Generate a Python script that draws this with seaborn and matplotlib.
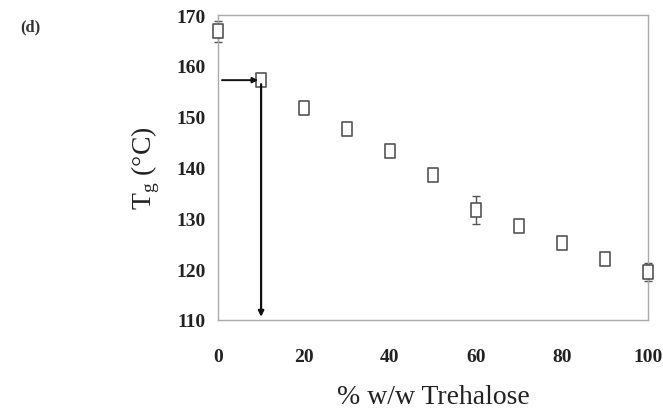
import matplotlib
matplotlib.use("Agg")
import matplotlib.pyplot as plt
from matplotlib.path import Path
import seaborn as sns
import pandas as pd

# Glass transition temperature vs trehalose content
trehalose_pct = [0, 10, 20, 30, 40, 50, 60, 70, 80, 90, 100]
tg_celsius = [166.8, 157.2, 151.8, 147.6, 143.2, 138.6, 131.6, 128.5, 125.1, 122.0, 119.4]
tg_error = [2.0, 0.6, 0.6, 0.5, 0.6, 0.6, 2.7, 0.6, 0.5, 0.5, 1.8]

x_ticks = [0, 20, 40, 60, 80, 100]
y_ticks = [110, 120, 130, 140, 150, 160, 170]

df = pd.DataFrame({"pct": trehalose_pct, "tg": tg_celsius, "err": tg_error})

sns.set_theme(style="white")
plt.rcParams["font.family"] = ["Liberation Serif", "DejaVu Serif"]

fig = plt.figure(figsize=(6.63, 4.14), dpi=100)
ax = fig.add_axes([0.329, 0.225, 0.648, 0.736])

# Tall open rectangle marker
rect_marker = Path([(-0.36, -0.5), (0.36, -0.5), (0.36, 0.5), (-0.36, 0.5), (-0.36, -0.5)],
                   [Path.MOVETO, Path.LINETO, Path.LINETO, Path.LINETO, Path.CLOSEPOLY])

eb = ax.errorbar(df["pct"], df["tg"], yerr=df["err"], fmt="none",
                 ecolor="#555555", elinewidth=1.0, capsize=3, capthick=1.0, zorder=2)
for art in eb.lines[1] + eb.lines[2]:
    art.set_clip_on(False)
sns.scatterplot(data=df, x="pct", y="tg", marker=rect_marker, s=110,
                facecolor="white", edgecolor="#555555", linewidth=1.2,
                ax=ax, zorder=3, legend=False, clip_on=False)

# Arrow guides reading off the 10 % composition
sel_x, sel_y = trehalose_pct[1], tg_celsius[1]
ax.annotate("", xy=(sel_x - 0.7, sel_y), xytext=(0.9, sel_y),
            arrowprops=dict(arrowstyle="-|>", color="#111111", lw=1.4,
                            mutation_scale=8, shrinkA=0, shrinkB=0), zorder=4)
ax.annotate("", xy=(sel_x, 110.6), xytext=(sel_x, sel_y - 0.8),
            arrowprops=dict(arrowstyle="-|>", color="#111111", lw=1.6,
                            mutation_scale=8, shrinkA=0, shrinkB=0), zorder=4)

ax.set_xlim(0, 100)
ax.set_ylim(110, 170)
ax.set_xticks(x_ticks)
ax.set_yticks(y_ticks)
ax.set_xticklabels([str(v) for v in x_ticks], fontweight="bold", fontsize=14)
ax.set_yticklabels([str(v) for v in y_ticks], fontweight="bold", fontsize=14)
ax.tick_params(axis="both", direction="out", length=3, width=0.8, color="#999999",
               labelcolor="#222222")
ax.tick_params(axis="y", pad=6)
ax.tick_params(axis="x", pad=17)

for side in ["left", "bottom", "right", "top"]:
    ax.spines[side].set_visible(True)
    ax.spines[side].set_color("#aaaaaa")
    ax.spines[side].set_linewidth(1.0)

ax.set_xlabel("% w/w Trehalose", fontsize=20, color="#222222", labelpad=14)
ax.set_ylabel(r"T$_\mathregular{g}$ (°C)", fontsize=20, color="#222222", labelpad=10)

fig.text(0.03, 0.925, "(d)", fontsize=12, color="#333333", fontweight="bold")

fig.savefig("out.png", dpi=100)
